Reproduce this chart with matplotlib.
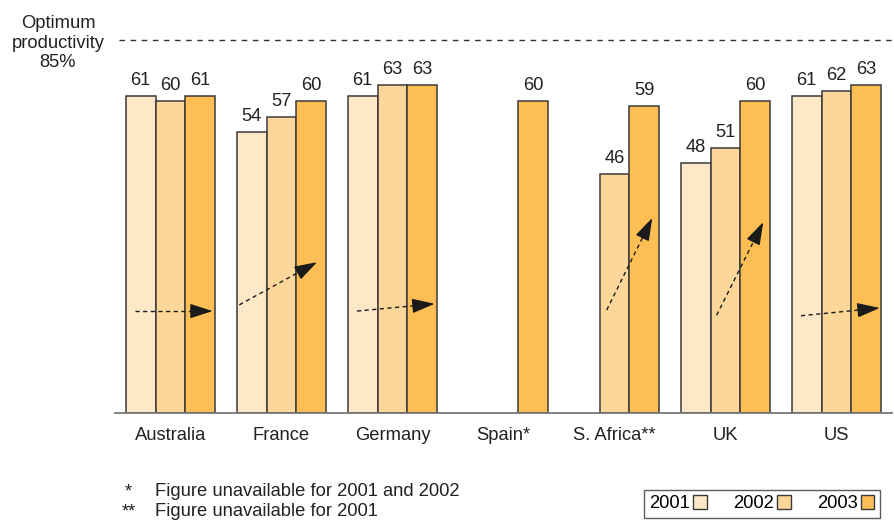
import numpy as np
import matplotlib
matplotlib.use("Agg")
import matplotlib.pyplot as plt
from matplotlib.patches import Patch

plt.rcParams['font.family'] = ['Liberation Sans', 'DejaVu Sans']

countries = ["Australia", "France", "Germany", "Spain*", "S. Africa**", "UK", "US"]
years = ["2001", "2002", "2003"]
v2001 = [61, 54, 61, np.nan, np.nan, 48, 61]
v2002 = [60, 57, 63, np.nan, 46, 51, 62]
v2003 = [61, 60, 63, 60, 59, 60, 63]

# trend arrows (x offset within group, value level)
arrow_x0 = [-0.32, -0.38, -0.32, None, -0.07, -0.08, -0.32]
arrow_y0 = [19.6, 20.8, 19.6, None, 19.8, 18.8, 18.7]
arrow_x1 = [0.38, 0.32, 0.38, None, 0.34, 0.34, 0.39]
arrow_y1 = [19.6, 29.0, 21.0, None, 37.5, 36.7, 20.2]

colors = ["#fee8c8", "#fdd699", "#fdbf55"]
edge = "#3a3a3a"
fs = 13.2

fig = plt.figure(figsize=(8.95, 5.22), dpi=100)
ax = fig.add_axes([115 / 895, 109 / 522, 777 / 895, 374.4 / 522])

x = np.arange(len(countries))
w = 0.27
for k, vals in enumerate([v2001, v2002, v2003]):
    xs = x + (k - 1) * w
    ax.bar(xs, vals, width=w, color=colors[k], edgecolor=edge, linewidth=1.1)
    for xi, v in zip(xs, vals):
        if not np.isnan(v):
            ax.annotate(str(v), (xi, v), xytext=(0, 5), textcoords="offset points",
                        ha="center", va="bottom", fontsize=fs, color="#222222")

ax.set_xlim(-0.5, 6.5)
ax.set_ylim(0, 72)

# dashed shaft + solid head
head_px = 19
for i in range(len(countries)):
    if arrow_x0[i] is None:
        continue
    p0 = ax.transData.transform((i + arrow_x0[i], arrow_y0[i]))
    p1 = ax.transData.transform((i + arrow_x1[i], arrow_y1[i]))
    u = (p1 - p0) / np.hypot(*(p1 - p0))
    base = ax.transData.inverted().transform(p1 - u * head_px)
    ax.plot([i + arrow_x0[i], base[0]], [arrow_y0[i], base[1]], color="#1a1a1a",
            lw=1.0, linestyle=(0, (3, 2.5)))
    ax.annotate("", xy=(i + arrow_x1[i], arrow_y1[i]), xytext=(base[0], base[1]),
                arrowprops=dict(arrowstyle="-|>,head_length=1.4,head_width=0.45",
                                color="#1a1a1a", lw=1.0, shrinkA=0, shrinkB=0))

ax.axhline(71.7, xmin=0.005, xmax=1.005, color="#333333", lw=1, linestyle=(0, (4, 4)), clip_on=False)

for s in ["top", "right", "left"]:
    ax.spines[s].set_visible(False)
ax.spines["bottom"].set_color("#777777")
ax.spines["bottom"].set_linewidth(1.3)
ax.set_yticks([])
ax.set_xticks(x)
ax.set_xticklabels(countries, fontsize=fs, color="#222222")
ax.tick_params(axis="x", length=0, pad=10)

fig.text(58 / 895, 1 - 43 / 522, "Optimum\nproductivity\n85%", ha="center", va="center",
         fontsize=fs, color="#222222", linespacing=1.22)

fig.text(125 / 895, 1 - 492 / 522, "*", ha="left", va="center", fontsize=fs, color="#222222")
fig.text(155 / 895, 1 - 492 / 522, "Figure unavailable for 2001 and 2002", ha="left", va="center",
         fontsize=fs, color="#222222")
fig.text(122 / 895, 1 - 512 / 522, "**", ha="left", va="center", fontsize=fs, color="#222222")
fig.text(155 / 895, 1 - 512 / 522, "Figure unavailable for 2001", ha="left", va="center",
         fontsize=fs, color="#222222")

handles = [Patch(facecolor=c, edgecolor=edge, linewidth=1) for c in colors]
leg = fig.legend(handles, years, loc="lower right", bbox_to_anchor=(880 / 895, 4 / 522), ncol=3,
                 markerfirst=False, fontsize=fs, handlelength=0.75, handleheight=0.75,
                 handletextpad=0.15, columnspacing=1.45, borderpad=0.3, fancybox=False,
                 frameon=True, borderaxespad=0)
leg.get_frame().set_edgecolor("#333333")
leg.get_frame().set_linewidth(1)

fig.savefig("out.png", dpi=100)
